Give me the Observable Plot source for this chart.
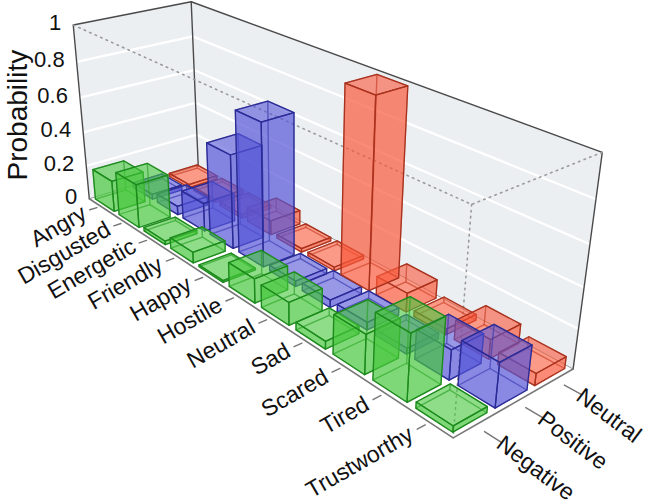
<!DOCTYPE html>
<html><head><meta charset="utf-8">
<script src="https://cdn.jsdelivr.net/npm/d3@7"></script>
<script src="https://cdn.jsdelivr.net/npm/@observablehq/plot@0.6"></script>
<style>
html,body{margin:0;padding:0;background:#fff;}
#chart{width:651px;height:504px;overflow:hidden;}
svg{font-family:"Liberation Sans",Arial,Helvetica,sans-serif;}
</style></head>
<body><div id="chart"></div>
<script>
// ---- data ----
const categories = ["Angry","Disgusted","Energetic","Friendly","Happy","Hostile","Neutral","Sad","Scared","Tired","Trustworthy"];
const seriesNames = ["Negative","Positive","Neutral"]; // front row to back row
const negative = [0.18,0.25,0.02,0.06,0.01,0.13,0.12,0.04,0.20,0.33,0.03];
const positive = [0.03,0.05,0.16,0.52,0.77,0.03,0.04,0.04,0.03,0.15,0.22];
const neutral  = [0.02,0.02,0.02,0.08,0.02,0.02,0.99,0.10,0.03,0.10,0.06];
const zTicks = [0,0.2,0.4,0.6,0.8,1];

// ---- styles ----
const seriesFill = ["70,200,60","85,85,215","250,88,58"];
const seriesEdge = ["#1d8a1d","#2b2b96","#a8321e"];

// ---- 3D projection (perspective camera fitted to the box corners) ----
// box space: u = category (0..11), v = series (0..3), w = probability (0..1)
const nCat = categories.length, nSer = seriesNames.length;
const calib = [
  [0,0,0, 89,196],[nCat,0,0, 453,439],[nCat,nSer,0, 573,366],[0,nSer,0, 197,168],
  [0,0,1, 73,25],[nCat,0,1, 470,205],[nCat,nSer,1, 602,152],[0,nSer,1, 191,0]
];
function fit(pts){
  const A=[],b=[];
  for(const [X,Y,Z,x,y] of pts){
    A.push([X,Y,Z,1,0,0,0,0,-x*X,-x*Y,-x*Z]); b.push(x);
    A.push([0,0,0,0,X,Y,Z,1,-y*X,-y*Y,-y*Z]); b.push(y);
  }
  const n=11, N=Array.from({length:n},()=>new Array(n+1).fill(0));
  for(let r=0;r<A.length;r++) for(let i=0;i<n;i++){ for(let j=0;j<n;j++) N[i][j]+=A[r][i]*A[r][j]; N[i][n]+=A[r][i]*b[r]; }
  for(let i=0;i<n;i++){
    let p=i; for(let r=i+1;r<n;r++) if(Math.abs(N[r][i])>Math.abs(N[p][i])) p=r;
    [N[i],N[p]]=[N[p],N[i]];
    for(let r=0;r<n;r++){ if(r===i) continue; const f=N[r][i]/N[i][i]; for(let c=i;c<=n;c++) N[r][c]-=f*N[i][c]; }
  }
  return N.map((row,i)=>row[n]/row[i]);
}
const m = fit(calib);
function proj(X,Y,Z){
  const d=m[8]*X+m[9]*Y+m[10]*Z+1;
  return [(m[0]*X+m[1]*Y+m[2]*Z+m[3])/d,(m[4]*X+m[5]*Y+m[6]*Z+m[7])/d,d];
}
function det3(a){return a[0][0]*(a[1][1]*a[2][2]-a[1][2]*a[2][1])-a[0][1]*(a[1][0]*a[2][2]-a[1][2]*a[2][0])+a[0][2]*(a[1][0]*a[2][1]-a[1][1]*a[2][0]);}
const M=[[m[0],m[1],m[2]],[m[4],m[5],m[6]],[m[8],m[9],m[10]]], rhs=[-m[3],-m[7],-1];
const D=det3(M);
const cam=[0,1,2].map(k=>det3(M.map((row,i)=>row.map((v,j)=>j===k?rhs[i]:v)))/D);
const sgn=Math.sign(proj(0,nSer,0)[2]-proj(nCat,0,0)[2]);
const depth=(X,Y,Z)=>sgn*proj(X,Y,Z)[2];

// ---- build geometry ----
const polys=[]; let pid=0;
function addPoly(pts3, fill, stroke){
  const id=pid++;
  for(const [X,Y,Z] of pts3){ const [x,y]=proj(X,Y,Z); polys.push({id,x,y,fill,stroke}); }
}
let lid=0;
function addLine(pts3, group){
  const id=lid++;
  for(const [X,Y,Z] of pts3){ const [x,y]=proj(X,Y,Z); group.push({id,x,y}); }
}
const wallPolys=[];
function wall(pts3){ const id=pid++; for(const [X,Y,Z] of pts3){const [x,y]=proj(X,Y,Z); wallPolys.push({id,x,y});} }
wall([[0,0,0],[0,0,1],[0,nSer,1],[0,nSer,0]]);
wall([[0,nSer,0],[0,nSer,1],[nCat,nSer,1],[nCat,nSer,0]]);
const grid=[]; for(const t of zTicks.filter(t=>t>0&&t<1)) addLine([[0,0,t],[0,nSer,t],[nCat,nSer,t]],grid);
const frame=[]; addLine([[0,0,0],[0,0,1],[0,nSer,1],[nCat,nSer,1],[nCat,nSer,0]],frame); addLine([[0,nSer,0],[0,nSer,1]],frame);
const floorEdge=[]; addLine([[0,0,0],[nCat,0,0],[nCat,nSer,0]],floorEdge);
const wallBase=[]; addLine([[0,0,0],[0,nSer,0],[nCat,nSer,0]],wallBase);
const dotted=[]; addLine([[0,0,1],[nCat,0,1],[nCat,nSer,1]],dotted); addLine([[nCat,0,1],[nCat,0,0]],dotted);
const ticks=[];
categories.forEach((c,k)=>addLine([[k+0.5,-0.1,0],[k+0.5,-0.28,0]],ticks));
seriesNames.forEach((s,j)=>addLine([[nCat+0.2,j+0.5,0],[nCat+0.55,j+0.5,0]],ticks));

const values=[negative,positive,neutral];
const gap=0.1;
const bars=[];
values.forEach((vals,j)=>vals.forEach((val,k)=>bars.push({k,j,val})));
bars.forEach(b=>b.d=depth(b.k+0.5,b.j+0.5,b.val/2));
bars.sort((a,b)=>b.d-a.d);
for(const b of bars){
  const u0=b.k+gap,u1=b.k+1-gap,v0=b.j+gap,v1=b.j+1-gap,h=b.val;
  const faces=[
    {p:[[u0,v0,0],[u1,v0,0],[u1,v1,0],[u0,v1,0]], vis:cam[2]<0, top:false},
    {p:[[u0,v0,h],[u1,v0,h],[u1,v1,h],[u0,v1,h]], vis:cam[2]>h, top:true},
    {p:[[u0,v0,0],[u0,v1,0],[u0,v1,h],[u0,v0,h]], vis:cam[0]<u0},
    {p:[[u1,v0,0],[u1,v1,0],[u1,v1,h],[u1,v0,h]], vis:cam[0]>u1},
    {p:[[u0,v0,0],[u1,v0,0],[u1,v0,h],[u0,v0,h]], vis:cam[1]<v0},
    {p:[[u0,v1,0],[u1,v1,0],[u1,v1,h],[u0,v1,h]], vis:cam[1]>v1}
  ];
  const rgb=seriesFill[b.j];
  for(const f of faces.filter(f=>!f.vis)) addPoly(f.p,`rgba(${rgb},0.36)`,"rgba(0,0,0,0)");
  for(const f of faces.filter(f=>!f.vis)) addPoly(f.p,"rgba(0,0,0,0)",seriesEdge[b.j]+"70");
  for(const f of faces.filter(f=>f.vis)) addPoly(f.p,`rgba(${rgb},${f.top?0.38:0.52})`,seriesEdge[b.j]);
}

const zLab=zTicks.map(t=>{const [x,y]=proj(0,0,t);return {x,y,t:String(t)};});
const catLab=categories.map((c,k)=>{const [x,y]=proj(k+0.5,-0.41,0);return {x,y,t:c};});
const serLab=seriesNames.map((s,j)=>{const [x,y]=proj(nCat+0.5,j+0.5,0);return {x,y,t:s};});
const [px,py]=proj(0,0,0.5);

const chart=Plot.plot({
  width:651,height:504,margin:0,
  x:{type:"linear",domain:[0,651],range:[0,651],axis:null},
  y:{type:"linear",domain:[0,504],range:[0,504],axis:null},
  color:{type:"identity"},
  style:{background:"#fff",fontFamily:"Liberation Sans, Arial, sans-serif"},
  marks:[
    Plot.line(wallPolys,{x:"x",y:"y",z:"id",fill:"#eceff2",stroke:"none",curve:"linear-closed"}),
    Plot.line(grid,{x:"x",y:"y",z:"id",stroke:"#ffffff",strokeWidth:2.2}),
    Plot.line(wallBase,{x:"x",y:"y",z:"id",stroke:"#9a9a9a",strokeWidth:1}),
    Plot.line(frame,{x:"x",y:"y",z:"id",stroke:"#4a4a4a",strokeWidth:1.4}),
    Plot.line(dotted,{x:"x",y:"y",z:"id",stroke:"#9a9a9a",strokeWidth:1.6,strokeDasharray:"1.5,4.5"}),
    Plot.line(floorEdge,{x:"x",y:"y",z:"id",stroke:"#777",strokeWidth:1.6}),
    Plot.line(ticks,{x:"x",y:"y",z:"id",stroke:"#777",strokeWidth:1.4}),
    Plot.line(polys,{x:"x",y:"y",z:"id",fill:"fill",stroke:"stroke",strokeWidth:1.3,strokeLinejoin:"round",curve:"linear-closed"}),
    Plot.text(zLab,{x:"x",y:"y",text:"t",textAnchor:"end",dx:-12,dy:-2,fontSize:22,fill:"#111"}),
    Plot.text(catLab,{x:"x",y:"y",text:"t",textAnchor:"end",rotate:-30,fontSize:23,fill:"#111"}),
    Plot.text(serLab,{x:"x",y:"y",text:"t",textAnchor:"start",rotate:37,fontSize:23,fill:"#111"}),
    Plot.text([{t:"Probability"}],{x:()=>px,y:()=>py,text:"t",rotate:-90,dx:-64,fontSize:28,fill:"#111"})
  ]
});
document.getElementById("chart").appendChild(chart);
</script></body></html>
